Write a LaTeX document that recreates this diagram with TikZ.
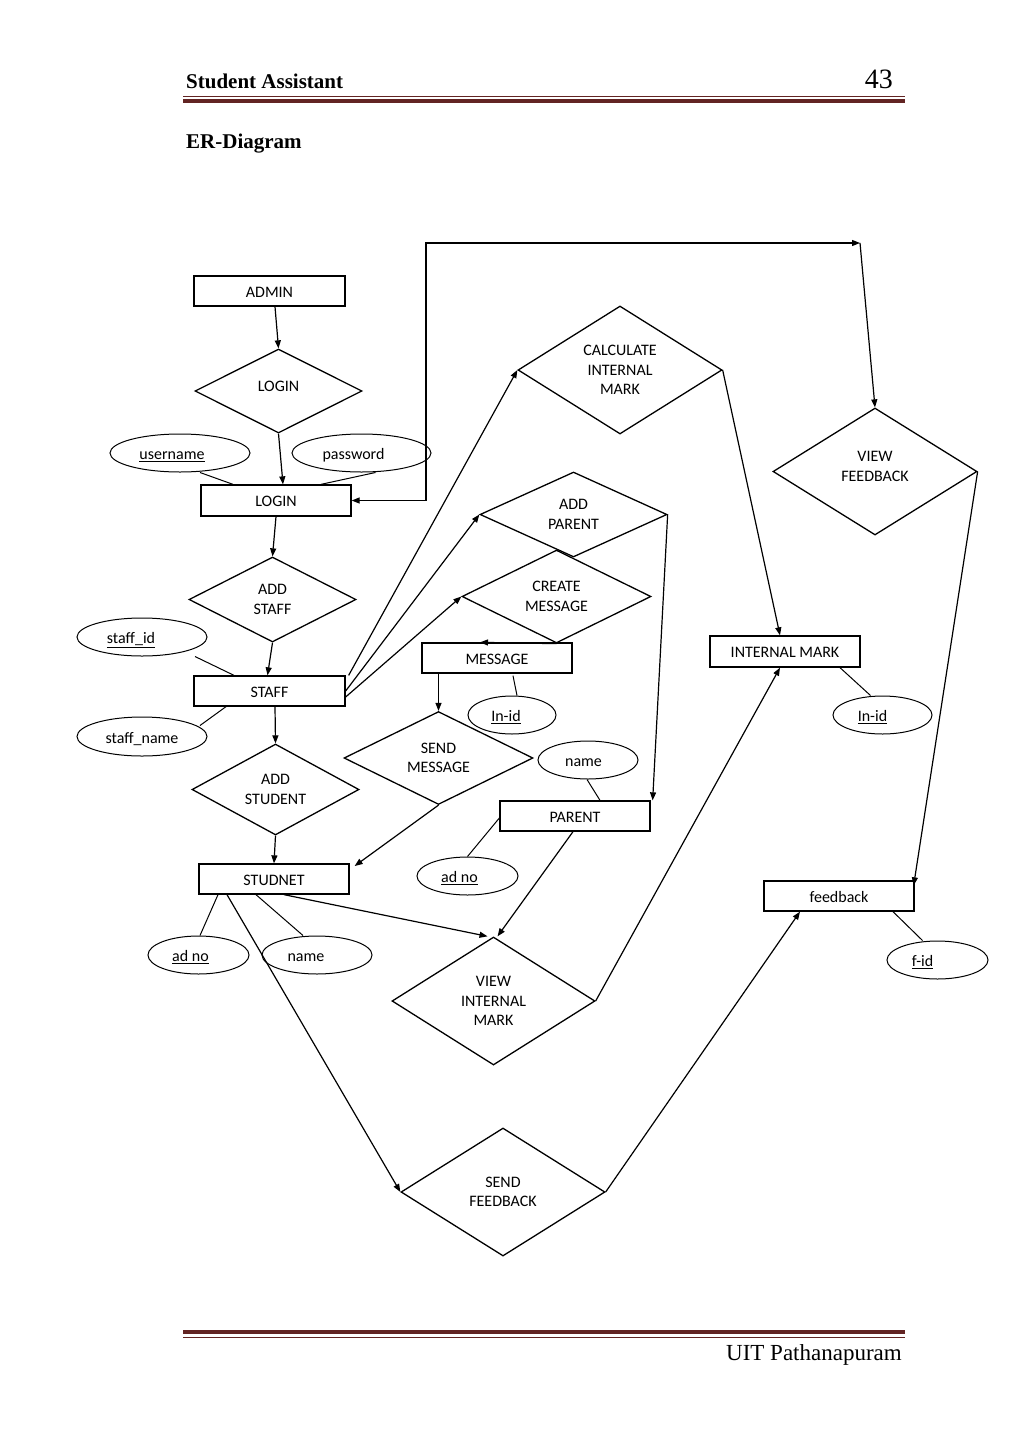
\documentclass[tikz,border=0pt]{standalone}
\usepackage{fontspec}
\setmainfont{Carlito}
\newfontfamily\hdrfont{Liberation Serif}
\usetikzlibrary{arrows.meta,shapes.geometric}
\definecolor{rulebrown}{HTML}{622423}
\newcommand{\lft}[2]{\hbox{#2\kern#1pt}}
\begin{document}
\begin{tikzpicture}[x=1pt,y=-1pt,
  every node/.style={font=\fontsize{16}{19.5}\selectfont, align=center, inner sep=0pt},
  ent/.style={draw, rectangle, line width=1.3pt, minimum width=150pt, minimum height=30pt, text height=14.5pt, text depth=2pt},
  rel/.style={draw, diamond, line width=1.3pt},
  attr/.style={draw, ellipse, line width=1pt, minimum height=38pt, text height=15pt, text depth=2pt},
  arr/.style={line width=1.2pt, -{Triangle[length=8pt,width=6pt]}},
  lnk/.style={line width=1pt},
  hdr/.style={font=\hdrfont\bfseries\fontsize{21}{24}\selectfont, anchor=base west},
]
\useasboundingbox (0,0) rectangle (1024,1448);
\fill[white] (0,0) rectangle (1024,1448);

% header and footer
\node[hdr] (title) at (186,88) {Student Assistant};
\node[font=\hdrfont\fontsize{28}{30}\selectfont, anchor=base east] (pageno) at (893,88) {43};
\draw[rulebrown, line width=1pt] (183,96.5) -- (905,96.5);
\draw[rulebrown, line width=4pt] (183,100.5) -- (905,100.5);
\node[hdr] (ertitle) at (186,148) {ER-Diagram};
\draw[rulebrown, line width=4pt] (183,1332) -- (905,1332);
\draw[rulebrown, line width=1pt] (183,1337) -- (905,1337);
\node[font=\hdrfont\fontsize{23}{26}\selectfont, anchor=base east] (footer) at (902,1360) {UIT Pathanapuram};

% entities
\node[ent, minimum width=151pt] (admin) at (269.5,291) {ADMIN};
\node[ent, minimum height=31pt] (loginR) at (276,500.5) {LOGIN};
\node[ent, minimum width=151pt] (staff) at (269.5,691) {STAFF};
\node[ent] (studnet) at (274,879) {STUDNET};
\node[ent] (message) at (497,658) {MESSAGE};
\node[ent] (parent) at (575,816) {PARENT};
\node[ent, minimum height=31pt] (imark) at (785,651.5) {INTERNAL MARK};
\node[ent] (feedback) at (839,896) {feedback};

% relationships
\node[rel, minimum width=167pt, minimum height=84pt] (loginD) at (278.5,391) {LOGIN\\[-15pt]\strut};
\node[rel, minimum width=167pt, minimum height=85pt] (addstaff) at (272.5,599.5) {ADD\\STAFF};
\node[rel, minimum width=167pt, minimum height=85pt] (addstudent) at (275.5,789.5) {ADD\\STUDENT};
\node[rel, minimum width=204pt, minimum height=128pt] (calc) at (620,370) {CALCULATE\\INTERNAL\\MARK};
\node[rel, minimum width=204pt, minimum height=127pt] (viewfb) at (875,471.5) {VIEW\\FEEDBACK\\[-15pt]\strut};
\node[rel, minimum width=187pt, minimum height=85pt] (addparent) at (573.5,514.5) {ADD\\PARENT};
\node[rel, minimum width=189pt, minimum height=79pt] (createmsg) at (556.5,596.5) {CREATE\\MESSAGE};
\node[rel, minimum width=189pt, minimum height=84pt] (sendmsg) at (438.5,758) {SEND\\MESSAGE};
\node[rel, minimum width=203pt, minimum height=128pt] (viewim) at (493.5,1001) {VIEW\\INTERNAL\\MARK};
\node[rel, minimum width=204pt, minimum height=128pt] (sendfb) at (503,1192) {SEND\\FEEDBACK};

% attributes
\node[attr, minimum width=140pt] (username) at (180,453) {\lft{16}{\underline{username}}};
\node[attr, minimum width=139pt] (password) at (361.5,453) {\lft{16}{password}};
\node[attr, minimum width=130pt] (staffid) at (142,637) {\lft{22}{\underline{staff\_id}}};
\node[attr, minimum width=130pt, minimum height=39pt] (staffname) at (142,736.5) {staff\_name};
\node[attr, minimum width=101pt] (sadno) at (198.5,955) {\lft{16}{\underline{ad no}}};
\node[attr, minimum width=110pt] (sname) at (317,955) {\lft{22}{name}};
\node[attr, minimum width=88pt] (msgid) at (512,715) {\lft{12}{\underline{In-id}}};
\node[attr, minimum width=100pt] (pname) at (588,760) {\lft{9}{name}};
\node[attr, minimum width=101pt] (padno) at (467.5,876) {\lft{16}{\underline{ad no}}};
\node[attr, minimum width=99pt] (imid) at (882.5,715) {\lft{20}{\underline{In-id}}};
\node[attr, minimum width=101pt] (fid) at (937.5,960) {\lft{30}{\underline{f-id}}};

\coordinate (c1) at (426,243);
\coordinate (c2) at (860,243);

% connectors
\draw[arr] ([xshift=5.5pt]admin.south) -- (loginD.north);
\draw[arr] (loginD.south) -- ([xshift=7pt]loginR.north);
\draw[lnk] ([xshift=20pt]username.south) -- ([xshift=-43pt]loginR.north);
\draw[lnk] ([xshift=14pt]password.south) -- ([xshift=45pt]loginR.north);
\draw[line width=1.2pt, {Triangle[length=8pt,width=6pt]}-{Triangle[length=8pt,width=6pt]}] (loginR.east) -| (c1) -- (c2);
\draw[arr] (c2) -- (viewfb.north);
\draw[arr] (loginR.south) -- (addstaff.north);
\draw[arr] (addstaff.south) -- ([xshift=-2pt]staff.north);
\draw[lnk] ([xshift=53pt]staffid.south) -- ([xshift=-35.5pt]staff.north);
\draw[lnk] ([xshift=58pt,yshift=-9pt]staffname.north) -- ([xshift=-43.5pt]staff.south);
\draw[arr] ([xshift=5.5pt]staff.south) -- (addstudent.north);
\draw[arr] (addstudent.south) -- (studnet.north);
\draw[arr] ([xshift=3pt]staff.north east) -- (calc.west);
\draw[arr] (staff.east) -- (addparent.west);
\draw[arr] ([yshift=-6pt]staff.east) -- (createmsg.west);
\draw[arr] (createmsg.south) -- ([xshift=-17pt]message.north);
\draw[arr] ([xshift=-58.5pt]message.south) -- (sendmsg.north);
\draw[lnk] ([xshift=16pt,yshift=-2pt]message.south) -- ([xshift=5pt]msgid.north);
\draw[arr] (sendmsg.south) -- ([xshift=5pt,yshift=13pt]studnet.east);
\draw[arr] (addparent.east) -- ([xshift=2pt]parent.north east);
\draw[lnk] ([xshift=-1pt]pname.south) -- ([xshift=25pt]parent.north);
\draw[lnk] (padno.north) -- ([yshift=-2pt]parent.west);
\draw[arr] ([xshift=-2pt]parent.south) -- ([xshift=4pt]viewim.north);
\draw[arr] ([xshift=10pt]studnet.south) -- ([xshift=-6pt]viewim.north);
\draw[lnk] ([xshift=-56pt]studnet.south) -- ([xshift=1.5pt]sadno.north);
\draw[lnk] ([xshift=-18pt]studnet.south) -- ([xshift=-14pt]sname.north);
\draw[arr] ([xshift=-47pt]studnet.south) -- (sendfb.west);
\draw[arr] (viewim.east) -- ([xshift=-5pt]imark.south);
\draw[arr] (calc.east) -- ([xshift=-5pt]imark.north);
\draw[lnk] ([xshift=55pt]imark.south) -- ([xshift=-12pt]imid.north);
\draw[arr] (viewfb.east) -- ([xshift=-1pt,yshift=-5pt]feedback.north east);
\draw[arr] (sendfb.east) -- ([xshift=-39pt]feedback.south);
\draw[lnk] ([xshift=54pt]feedback.south) -- ([xshift=-15pt]fid.north);
\end{tikzpicture}
\end{document}
